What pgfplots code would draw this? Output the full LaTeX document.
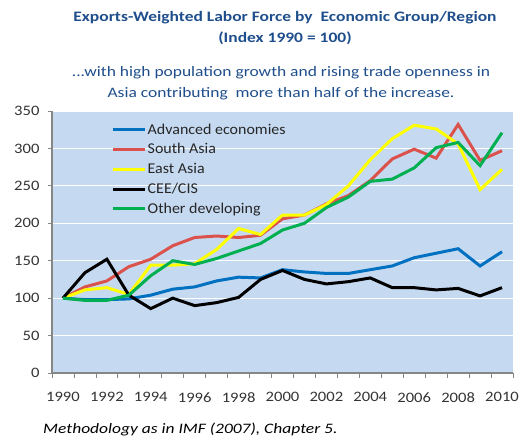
\documentclass[border=0pt]{standalone}
\usepackage{pgfplots}
\pgfplotsset{compat=1.18}
\usepackage{fontspec}
\setmainfont{Carlito}[FakeStretch=1.21]
\newfontfamily\legfont{Carlito}[FakeStretch=1.07]
\newfontfamily\tickfont{Carlito}[FakeStretch=1.15]
\definecolor{titleblue}{RGB}{31,78,140}
\definecolor{bgblue}{RGB}{197,217,241}
\definecolor{advblue}{RGB}{0,112,192}
\definecolor{sared}{RGB}{218,82,75}
\definecolor{eayellow}{RGB}{255,255,0}
\definecolor{odgreen}{RGB}{0,176,80}
\definecolor{axgray}{RGB}{134,134,134}
\pgfplotstableread{
year adv sa ea cee od
1990 100 100 100 100 100
1991 98 115 111 134 97
1992 98 123 114 152 97
1993 99 142 105 104 104
1994 104 152 144 86 130
1995 112 170 144 100 150
1996 115 181 146 90 145
1997 123 183 165 94 153
1998 128 181 193 101 163
1999 127 184 185 125 173
2000 138 206 211 137 191
2001 135 211 211 125 200
2002 133 226 225 119 221
2003 133 237 250 122 235
2004 138 257 285 127 256
2005 143 286 313 114 259
2006 154 299 331 114 274
2007 160 287 326 111 301
2008 166 332 306 113 308
2009 143 284 245 103 277
2010 162 297 272 114 321
}\datatable
\begin{document}
\begin{tikzpicture}
\useasboundingbox (-52bp,-69bp) rectangle (471bp,373bp);
\begin{axis}[
  at={(0,0)}, anchor=south west,
  scale only axis, width=461bp, height=262bp,
  xmin=1989.5, xmax=2010.5, ymin=0, ymax=350,
  axis background/.style={fill=bgblue},
  axis x line*=bottom, axis y line*=left,
  axis line style={axgray, line width=1.2pt, -},
  xtick={1990,1992,...,2010},
  xticklabels={1990,1992,1994,1996,1998,2000,2002,2004,2006,2008,2010},
  minor xtick={1989.5,1990.5,...,2010.5},
  major x tick style={draw=none},
  minor tick length=5bp,
  ytick={0,50,...,350},
  major tick length=4bp,
  tick align=outside,
  tick style={axgray, line width=0.8pt},
  ymajorgrids, grid style={white, line width=1pt},
  /pgf/number format/assume math mode=true,
  /pgf/number format/1000 sep={},
  tick label style={font=\tickfont\fontsize{14.5}{17}\selectfont, text=black!80},
  xticklabel style={yshift=-12bp},
  yticklabel style={xshift=-5bp},
  legend style={at={(rel axis cs:0.128,0.958)}, anchor=north west, draw=none, fill=none,
    font=\legfont\fontsize{15}{18}\selectfont, row sep=5bp, inner sep=0pt,
    nodes={inner sep=1.5pt, text=black!85}},
  legend cell align=left,
  legend image code/.code={\draw[#1, line width=3pt] (0bp,0bp) -- (32bp,0bp);},
]
\addplot[advblue, line width=3pt] table[x=year,y=adv] {\datatable};
\addlegendentry{Advanced economies}
\addplot[sared, line width=3pt] table[x=year,y=sa] {\datatable};
\addlegendentry{South Asia}
\addplot[eayellow, line width=3pt] table[x=year,y=ea] {\datatable};
\addlegendentry{East Asia}
\addplot[black, line width=3pt] table[x=year,y=cee] {\datatable};
\addlegendentry{CEE/CIS}
\addplot[odgreen, line width=3pt] table[x=year,y=od] {\datatable};
\addlegendentry{Other developing}
\end{axis}
\node[anchor=base, text=titleblue, font=\bfseries\fontsize{14.5}{18}\selectfont] at (233bp,351bp) {Exports-Weighted Labor Force by\ \ Economic Group/Region};
\node[anchor=base, text=titleblue, font=\bfseries\fontsize{14.5}{18}\selectfont] at (233bp,330bp) {(Index 1990 = 100)};
\node[anchor=base, text=titleblue, font=\fontsize{14.5}{18}\selectfont] at (229bp,296bp) {...with high population growth and rising trade openness in};
\node[anchor=base, text=titleblue, font=\fontsize{14.5}{18}\selectfont] at (229bp,275bp) {Asia contributing\ \ more than half of the increase.};
\node[anchor=base west, inner sep=0pt, font=\itshape\fontsize{14.5}{18}\selectfont] at (-9bp,-60bp) {Methodology as in IMF (2007), Chapter 5.};
\end{tikzpicture}
\end{document}
